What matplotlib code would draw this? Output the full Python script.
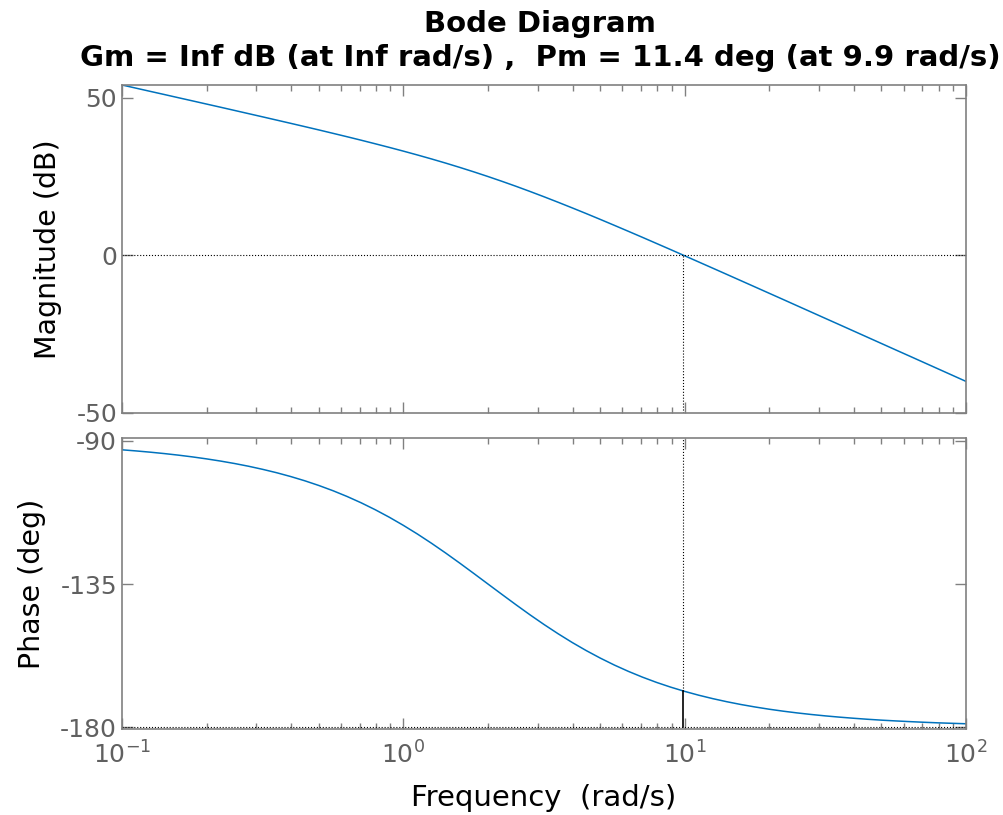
import numpy as np
import matplotlib
matplotlib.use("Agg")
import matplotlib.pyplot as plt
from matplotlib.ticker import LogLocator, NullFormatter

plt.rcParams["font.family"] = "DejaVu Sans"
plt.rcParams["axes.unicode_minus"] = False

# values (frequency in rad/s)
freq = [0.1, 0.1122, 0.1259, 0.1413, 0.1585, 0.1778, 0.1995, 0.2239, 0.2512, 0.2818,
        0.3162, 0.3548, 0.3981, 0.4467, 0.5012, 0.5623, 0.631, 0.7079, 0.7943, 0.8913,
        1.0, 1.122, 1.259, 1.413, 1.585, 1.778, 1.995, 2.239, 2.512, 2.818,
        3.162, 3.548, 3.981, 4.467, 5.012, 5.623, 6.31, 7.079, 7.943, 8.913,
        10.0, 11.22, 12.59, 14.13, 15.85, 17.78, 19.95, 22.39, 25.12, 28.18,
        31.62, 35.48, 39.81, 44.67, 50.12, 56.23, 63.1, 70.79, 79.43, 89.13, 100.0]
mag_db = [53.97, 52.97, 51.96, 50.96, 49.95, 48.95, 47.94, 46.93, 45.91, 44.89,
          43.87, 42.84, 41.81, 40.77, 39.72, 38.65, 37.57, 36.47, 35.34, 34.19,
          33.01, 31.79, 30.53, 29.22, 27.86, 26.45, 24.98, 23.45, 21.87, 20.23,
          18.54, 16.80, 15.02, 13.21, 11.36, 9.48, 7.58, 5.67, 3.73, 1.79,
          -0.17, -2.14, -4.11, -6.09, -8.07, -10.05, -12.04, -14.03, -16.03, -18.02,
          -20.02, -22.01, -24.01, -26.01, -28.01, -30.01, -32.00, -34.00, -36.00, -38.00, -40.00]
phase_deg = [-92.86, -93.21, -93.60, -94.04, -94.53, -95.08, -95.70, -96.39, -97.16, -98.02,
             -98.99, -100.06, -101.26, -102.59, -104.07, -105.70, -107.51, -109.49, -111.66, -114.02,
             -116.57, -119.29, -122.19, -125.24, -128.40, -131.64, -134.93, -138.22, -141.47, -144.64,
             -147.69, -150.59, -153.33, -155.88, -158.24, -160.42, -162.41, -164.22, -165.87, -167.35,
             -168.69, -169.89, -170.97, -171.94, -172.81, -173.58, -174.28, -174.90, -175.45, -175.94,
             -176.38, -176.77, -177.12, -177.44, -177.72, -177.96, -178.18, -178.38, -178.56, -178.71, -178.85]

wc = 9.9          # crossover frequency
pm_phase = -168.6  # phase at crossover
title = "Bode Diagram\nGm = Inf dB (at Inf rad/s) ,  Pm = 11.4 deg (at 9.9 rad/s)"

blue = (0, 0.447, 0.741)
gray = "#808080"
txtgray = "#606060"

fig = plt.figure(figsize=(10.04, 8.15), dpi=100)
ax1 = fig.add_axes([0.1215, 0.4933, 0.8407, 0.4024])
ax2 = fig.add_axes([0.1215, 0.1055, 0.8407, 0.3567])

ax1.semilogx(freq, mag_db, color=blue, lw=1.1)
ax1.axhline(0, color="black", ls=":", lw=0.8)
ax1.plot([wc, wc], [-50, 0], color="black", ls=":", lw=0.8)
ax1.set_ylim(-50, 53.97)
ax1.set_yticks([-50, 0, 50])
ax1.set_ylabel("Magnitude (dB)", fontsize=20.5, labelpad=10)

ax2.semilogx(freq, phase_deg, color=blue, lw=1.1)
ax2.axhline(-180, color="black", ls=":", lw=0.8)
ax2.plot([wc, wc], [pm_phase, -89.25], color="black", ls=":", lw=0.8)
ax2.plot([wc, wc], [-180, pm_phase], color="black", lw=1.2)
ax2.set_ylim(-180.5, -89.25)
ax2.set_yticks([-180, -135, -90])
ax2.set_ylabel("Phase (deg)", fontsize=20.5, labelpad=10)
ax2.set_xlabel("Frequency  (rad/s)", fontsize=21, labelpad=11)

for ax in (ax1, ax2):
    ax.set_xlim(0.1, 100)
    ax.xaxis.set_major_locator(LogLocator(base=10, numticks=10))
    ax.xaxis.set_minor_locator(LogLocator(base=10, subs=np.arange(2, 10), numticks=20))
    ax.xaxis.set_minor_formatter(NullFormatter())
    ax.tick_params(which="both", direction="in", top=True, right=True,
                   colors=gray, labelcolor=txtgray, labelsize=18, width=1.0)
    ax.tick_params(which="major", length=8)
    ax.tick_params(which="minor", length=4)
    for s in ax.spines.values():
        s.set_color(gray)
        s.set_linewidth(1.2)
ax1.tick_params(labelbottom=False)
ax2.tick_params(axis="x", pad=9)

ax1.set_title(title, fontsize=21, fontweight="bold", pad=14, linespacing=1.25, x=0.4953)

fig.savefig("out.png", dpi=100)
